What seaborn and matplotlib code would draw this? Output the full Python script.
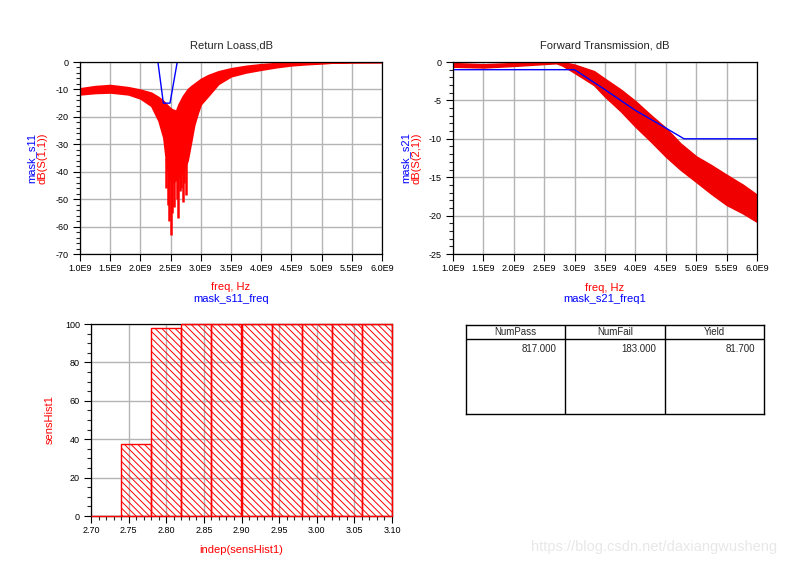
import numpy as np
import matplotlib
matplotlib.use("Agg")
from matplotlib import pyplot as plt
from matplotlib.ticker import MultipleLocator, FuncFormatter
import seaborn as sns

# Return loss: envelope of the Monte Carlo runs (GHz, dB)
s11_freq = [1.0, 1.25, 1.5, 1.8, 2.0, 2.18, 2.3, 2.38, 2.43, 2.48, 2.52, 2.59,
            2.63, 2.7, 2.78, 2.84, 2.89, 2.95, 3.0, 3.12, 3.29, 3.5, 3.75, 4.0,
            4.25, 4.5, 4.75, 5.0, 5.2, 5.5, 6.0]
s11_top = [-9.6, -8.8, -8.4, -9.2, -10.1, -11.2, -12.8, -14.2, -15.4, -16.5, -17.2, -17.8,
           -15.5, -12.5, -10.0, -8.8, -8.0, -7.0, -6.2, -4.8, -3.4, -2.3, -1.4, -0.8,
           -0.4, -0.15, -0.05, 0.0, 0.0, 0.0, 0.0]
s11_bottom = [-11.8, -11.3, -11.1, -11.8, -13.3, -16.0, -21.4, -27.5, -37.0, -42.0, -44.0, -43.0,
              -42.0, -40.0, -36.0, -29.0, -23.0, -18.5, -15.4, -12.4, -8.0, -5.2, -3.8, -2.8,
              -1.9, -1.2, -0.8, -0.5, -0.2, -0.05, 0.0]
# deepest single runs around the notch
spike_freq = [2.43, 2.45, 2.47, 2.50, 2.53, 2.55, 2.60, 2.62, 2.66, 2.68, 2.71, 2.73, 2.75]
spike_db = [-46, -52, -58, -63, -55, -53, -50, -57, -47, -46, -51, -44, -48.5]
# S11 mask
mask_s11_freq = [2.29, 2.38, 2.49, 2.61]
mask_s11 = [0, -15, -15, 0]

# Forward transmission envelope (GHz, dB)
s21_freq = [1.0, 1.5, 2.0, 2.5, 2.7, 2.8, 3.0, 3.32, 3.5, 3.76, 4.0, 4.25, 4.5,
            4.74, 5.0, 5.24, 5.5, 5.77, 6.0]
s21_top = [-0.15, -0.3, -0.15, 0.0, 0.0, 0.0, -0.35, -1.2, -2.2, -3.6, -5.1, -6.9, -8.6,
           -10.6, -12.3, -13.4, -14.7, -16.0, -17.3]
s21_bottom = [-0.6, -0.7, -0.5, -0.25, -0.15, -0.45, -1.4, -3.0, -4.5, -6.4, -8.4, -10.3, -12.3,
              -14.0, -15.6, -17.1, -18.6, -19.7, -20.8]
mask_s21_freq1 = [1.0, 3.0, 3.5, 4.0, 4.5, 4.8, 6.0]
mask_s21 = [-1, -1, -3.6, -6.3, -8.6, -10, -10]

# yield sensitivity histogram
hist_left = [2.70, 2.74, 2.78, 2.82, 2.86, 2.90, 2.94, 2.98, 3.02, 3.06]
hist_width = 0.04
sens_hist = [0, 37.5, 98, 100, 100, 100, 100, 100, 100, 100]

# yield table
table_cols = ["NumPass", "NumFail", "Yield"]
table_vals = [817.0, 183.0, 81.7]

RED = "#ff0000"
BLUE = "#0000ff"
W, H = 793, 566


def box(l, t, r, b):
    return [l / W, 1 - b / H, (r - l) / W, (b - t) / H]


def pt(x, y):
    return x / W, 1 - y / H


def style_axes(ax):
    ax.set_axisbelow(True)
    ax.grid(True, which="major", color="#b4b4b4", lw=1)
    for s in ax.spines.values():
        s.set_color("black")
        s.set_linewidth(0.9)
    ax.tick_params(which="major", direction="out", length=5, width=0.8,
                   labelsize=6.5, pad=2, colors="black")
    ax.tick_params(which="minor", direction="out", length=3, width=0.8)
    ax.tick_params(axis="y", pad=3)
    ax.set_xlabel("")
    ax.set_ylabel("")


ghz_fmt = FuncFormatter(lambda v, p: f"{v / 1e9:.1f}E9")

sns.set_style("ticks")
plt.rcParams["font.family"] = ["Liberation Sans", "DejaVu Sans"]
plt.rcParams["axes.unicode_minus"] = False
plt.rcParams["hatch.linewidth"] = 0.7
plt.rcParams["hatch.color"] = RED

fig = plt.figure(figsize=(W / 100, H / 100), dpi=100)

# ---- Return loss
ax1 = fig.add_axes(box(80, 62, 382, 254))
f = np.array(s11_freq) * 1e9
ax1.fill_between(f, s11_bottom, s11_top, color=RED, lw=1.2, edgecolor=RED)
sf = np.array(spike_freq) * 1e9
ax1.vlines(sf, spike_db, np.interp(sf, f, s11_bottom) + 2, color=RED, lw=1.8)
sns.lineplot(x=np.array(mask_s11_freq) * 1e9, y=mask_s11, color=BLUE, lw=1,
             sort=False, estimator=None, ax=ax1)
ax1.set_xlim(1e9, 6e9)
ax1.set_ylim(-70, 0)
ax1.xaxis.set_major_locator(MultipleLocator(0.5e9))
ax1.xaxis.set_major_formatter(ghz_fmt)
ax1.yaxis.set_major_locator(MultipleLocator(10))
ax1.yaxis.set_minor_locator(MultipleLocator(2))
style_axes(ax1)

fig.text(*pt(231, 45), "Return Loass,dB", ha="center", va="center", fontsize=8)
fig.text(*pt(31, 158), "mask_s11", color=BLUE, rotation=90, ha="center", va="center", fontsize=8)
fig.text(*pt(42, 158), "dB(S(1,1))", color=RED, rotation=90, ha="center", va="center", fontsize=8)
fig.text(*pt(231, 287), "freq, Hz", color=RED, ha="center", va="center", fontsize=8)
fig.text(*pt(231, 299), "mask_s11_freq", color=BLUE, ha="center", va="center", fontsize=8)

# ---- Forward transmission
ax2 = fig.add_axes(box(453, 62, 757, 254))
f2 = np.array(s21_freq) * 1e9
ax2.fill_between(f2, s21_bottom, s21_top, color="#f00000", lw=1.2, edgecolor="#f00000")
sns.lineplot(x=np.array(mask_s21_freq1) * 1e9, y=mask_s21, color=BLUE, lw=1,
             sort=False, estimator=None, ax=ax2)
ax2.set_xlim(1e9, 6e9)
ax2.set_ylim(-25, 0)
ax2.xaxis.set_major_locator(MultipleLocator(0.5e9))
ax2.xaxis.set_major_formatter(ghz_fmt)
ax2.yaxis.set_major_locator(MultipleLocator(5))
ax2.yaxis.set_minor_locator(MultipleLocator(1))
style_axes(ax2)

fig.text(*pt(605, 45), "Forward Transmission, dB", ha="center", va="center", fontsize=8)
fig.text(*pt(405, 158), "mask_s21", color=BLUE, rotation=90, ha="center", va="center", fontsize=8)
fig.text(*pt(416, 158), "dB(S(2,1))", color=RED, rotation=90, ha="center", va="center", fontsize=8)
fig.text(*pt(605, 288), "freq, Hz", color=RED, ha="center", va="center", fontsize=8)
fig.text(*pt(605, 299), "mask_s21_freq1", color=BLUE, ha="center", va="center", fontsize=8)

# ---- Histogram
ax3 = fig.add_axes(box(91, 324, 392, 516))
edges = list(hist_left) + [hist_left[-1] + hist_width]
centers = np.array(hist_left) + hist_width / 2
sns.histplot(x=centers, weights=sens_hist, bins=edges, ax=ax3,
             facecolor="none", edgecolor=RED, linewidth=1)
for p in ax3.patches:
    p.set_facecolor("none")
    p.set_edgecolor(RED)
    p.set_hatch("\\\\\\\\\\")
    p.set_zorder(3)
    p.set_clip_on(False)
ax3.set_xlim(2.70, 3.10)
ax3.set_ylim(0, 100)
ax3.xaxis.set_major_locator(MultipleLocator(0.05))
ax3.xaxis.set_minor_locator(MultipleLocator(0.01))
ax3.xaxis.set_major_formatter(FuncFormatter(lambda v, p: f"{v:.2f}"))
ax3.yaxis.set_major_locator(MultipleLocator(20))
ax3.yaxis.set_minor_locator(MultipleLocator(5))
style_axes(ax3)

fig.text(*pt(50, 420), "sensHist1", color=RED, rotation=90, ha="center", va="center", fontsize=8)
fig.text(*pt(241, 550), "indep(sensHist1)", color=RED, ha="center", va="center", fontsize=8)

# ---- Yield table
ax4 = fig.add_axes(box(466, 325, 764, 414))
ax4.set_xlim(0, 3)
ax4.set_ylim(0, 1)
ax4.set_xticks([])
ax4.set_yticks([])
for s in ax4.spines.values():
    s.set_color("black")
    s.set_linewidth(1)
ax4.axhline(0.843, color="black", lw=1)
for i in (1, 2):
    ax4.axvline(i, color="black", lw=1)
for i, (name, val) in enumerate(zip(table_cols, table_vals)):
    ax4.text(i + 0.5, 0.92, name, ha="center", va="center", fontsize=7)
    ax4.text(i + 0.91, 0.727, f"{val:.3f}", ha="right", va="center", fontsize=7)

fig.text(*pt(777, 547), "https://blog.csdn.net/daxiangwusheng", color="#e8e8e8",
         ha="right", va="center", fontsize=10.5)

plt.savefig("out.png", dpi=100)
